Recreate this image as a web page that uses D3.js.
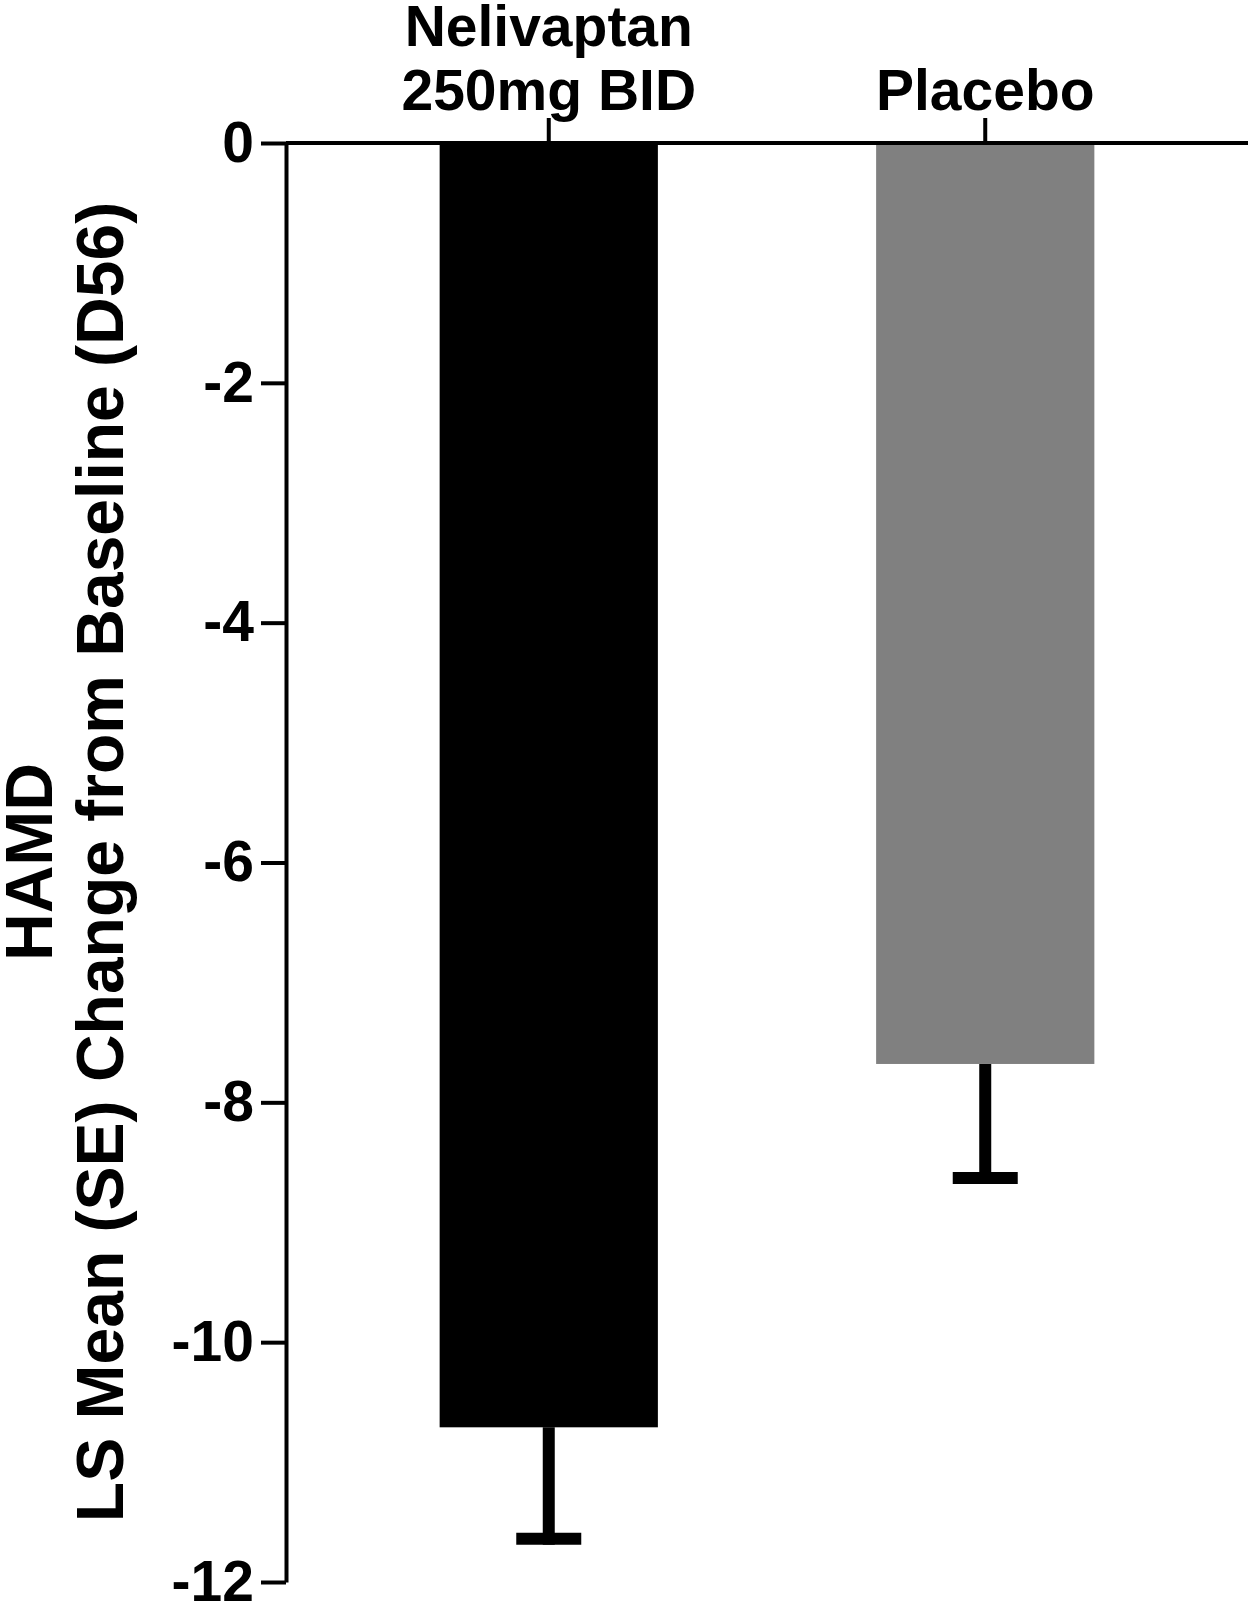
<!DOCTYPE html>
<html>
<head>
<meta charset="utf-8">
<script src="https://cdn.jsdelivr.net/npm/d3@7"></script>
<style>
  html, body { margin: 0; padding: 0; background: #fff; }
  svg { display: block; }
  text { font-family: "Liberation Sans", Arial, sans-serif; font-weight: bold; fill: #000; }
</style>
</head>
<body>
<svg id="chart" width="1253" height="1607"></svg>
<script>
// ---- data ----
const categories = ["Nelivaptan 250mg BID", "Placebo"];
const categoryLines = [["Nelivaptan", "250mg BID"], ["Placebo"]];
const means = [-10.71, -7.68];
const errors = [0.93, 0.95];
const barColors = ["#000000", "#808080"];
const yTicks = [0, -2, -4, -6, -8, -10, -12];
const yTitleLines = ["HAMD", "LS Mean (SE) Change from Baseline (D56)"];

// ---- layout ----
const svg = d3.select("#chart");
const plotLeft = 286, plotRight = 1248, plotTop = 143, plotBottom = 1582;

const x = d3.scaleBand().domain(categories).range([plotLeft, plotRight])
  .paddingInner(0.5).paddingOuter(0.352);
const y = d3.scaleLinear().domain([0, -12]).range([plotTop, plotBottom]);

// bars
svg.append("g").selectAll("rect").data(categories).join("rect")
  .attr("x", d => x(d))
  .attr("width", x.bandwidth())
  .attr("y", y(0))
  .attr("height", (d, i) => y(means[i]) - y(0))
  .attr("fill", (d, i) => barColors[i]);

// error bars
const eb = svg.append("g").attr("stroke", "#000").attr("stroke-width", 12);
categories.forEach((c, i) => {
  const cx = x(c) + x.bandwidth() / 2;
  const yEnd = y(means[i] - errors[i]);
  eb.append("line").attr("x1", cx).attr("x2", cx)
    .attr("y1", y(means[i])).attr("y2", yEnd + 6);
  eb.append("line").attr("x1", cx - 32.5).attr("x2", cx + 32.5)
    .attr("y1", yEnd).attr("y2", yEnd);
});

// y axis
const yAxis = svg.append("g").attr("transform", `translate(${plotLeft},0)`)
  .call(d3.axisLeft(y).tickValues(yTicks).tickFormat(d3.format("d"))
    .tickSize(25).tickSizeOuter(0).tickPadding(7));
yAxis.selectAll("path, line").attr("stroke", "#000").attr("stroke-width", 4);
yAxis.selectAll("text").attr("font-size", 57).attr("font-family", null).attr("fill", "#000")
  .text(d => d === 0 ? "0" : "-" + Math.abs(d));

// x axis (top)
const xAxis = svg.append("g").attr("transform", `translate(0,${plotTop})`)
  .call(d3.axisTop(x).tickSize(25).tickSizeOuter(0).tickFormat(""));
xAxis.selectAll("path, line").attr("stroke", "#000").attr("stroke-width", 4);
xAxis.select(".domain").attr("d", `M${plotLeft},0H${plotRight}`);
xAxis.selectAll(".tick text").remove();
xAxis.selectAll(".tick").each(function(d, i) {
  const lines = categoryLines[i];
  const t = d3.select(this).append("text")
    .attr("text-anchor", "middle").attr("font-size", 57);
  lines.forEach((ln, k) => {
    t.append("tspan").attr("x", 0)
      .attr("y", -33 - (lines.length - 1 - k) * 64)
      .text(ln);
  });
});

// y title
const yt = svg.append("text")
  .attr("transform", "translate(0,862) rotate(-90)")
  .attr("text-anchor", "middle").attr("font-size", 66);
yt.append("tspan").attr("x", 0).attr("y", 52).text(yTitleLines[0]);
yt.append("tspan").attr("x", 0).attr("y", 123).text(yTitleLines[1]);
</script>
</body>
</html>
